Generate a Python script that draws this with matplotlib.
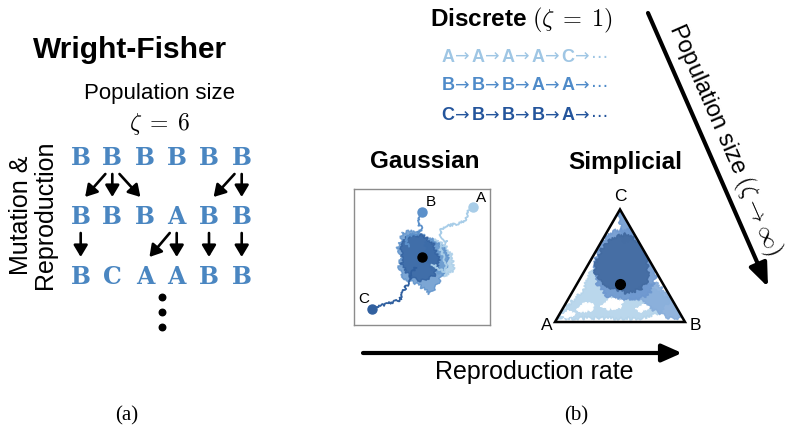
import matplotlib.pyplot as plt
import numpy as np

plt.rcParams['mathtext.fontset'] = 'cm'
SANS = ['Liberation Sans', 'DejaVu Sans']

# ---- (a) Wright-Fisher generations ----
wf_rows = ['BBBBBB', 'BBBABB', 'BCAABB']
wf_col_x = [80.7, 112.3, 145.0, 176.7, 209.0, 241.7]
wf_row_y = [158, 217, 277]
# (parent column, child column) for each generation step
wf_links = [[(1, 0), (1, 1), (1, 2), (5, 4), (5, 5)],
            [(0, 0), (3, 2), (3, 3), (4, 4), (5, 5)]]
wf_color = '#4a86c1'

# ---- (b) discrete chains ----
seq_states = [['A', 'A', 'A', 'A', 'C'],
              ['B', 'B', 'B', 'A', 'A'],
              ['C', 'B', 'B', 'B', 'A']]
seq_colors = ['#9fc6e4', '#4f8bc9', '#24559c']
seq_y = [57, 86, 116]

walk_colors = {'A': '#a8cde8', 'B': '#5b90ca', 'C': '#31609f'}

# Gaussian walks (box coords, centre = stationary point)
gauss_tail = {
    'A': ([0.755, 0.68, 0.657, 0.559, 0.412, 0.314, 0.265, 0.289, 0.363, 0.265, 0.314, 0.363, 0.314, 0.15],
          [0.74, 0.667, 0.569, 0.495, 0.47, 0.446, 0.373, 0.275, 0.225, 0.127, 0.005, -0.118, -0.216, -0.1]),
    'B': ([-0.005, -0.03, -0.054, -0.005, -0.054, -0.127, -0.2, -0.25, -0.2],
          [0.667, 0.593, 0.495, 0.422, 0.348, 0.324, 0.324, 0.25, 0.15]),
    'C': ([-0.74, -0.618, -0.52, -0.42, -0.32, -0.30, -0.25, -0.20, -0.18, -0.15, -0.1],
          [-0.765, -0.706, -0.696, -0.657, -0.632, -0.559, -0.461, -0.387, -0.314, -0.24, -0.15]),
}
gauss_cloud = {
    'A': ([0.05, 0.22, 0.36, 0.46, 0.46, 0.32, 0.15, 0.05],
          [0.22, 0.25, 0.14, 0.0, -0.2, -0.28, -0.18, 0.0]),
    'B': ([-0.3, -0.1, 0.05, 0.2, 0.3, 0.38, 0.36, 0.28, 0.2, 0.12, 0.0, -0.12, -0.28, -0.34, -0.3, -0.36, -0.3],
          [0.36, 0.38, 0.3, 0.24, 0.15, 0.02, -0.15, -0.3, -0.45, -0.55, -0.45, -0.38, -0.3, -0.15, 0.0, 0.15, 0.26]),
    'C': ([-0.25, 0.02, 0.18, 0.25, 0.18, 0.0, -0.18, -0.3, -0.3],
          [0.3, 0.32, 0.18, -0.05, -0.28, -0.35, -0.3, -0.12, 0.12]),
}
gauss_label_pos = {'A': (0.87, 0.87), 'B': (0.13, 0.81), 'C': (-0.85, -0.62)}

# Simplicial walks (triangle plane coords, A=(0,0), B=(1,0), C=(0.5,0.866))
simplex_cloud = {
    'light': ([0.013, 0.115, 0.218, 0.269, 0.359, 0.397, 0.436, 0.397, 0.474, 0.654, 0.782, 0.885, 0.808, 0.654],
              [0.028, 0.144, 0.246, 0.374, 0.503, 0.631, 0.579, 0.4, 0.246, 0.272, 0.246, 0.169, 0.067, 0.028]),
    'right': ([0.654, 0.782, 0.859, 0.962, 1.013, 0.885, 0.756, 0.654, 0.577],
              [0.272, 0.297, 0.221, 0.118, 0.028, 0.028, 0.092, 0.169, 0.195]),
    'apex': ([0.5, 0.556, 0.59, 0.603, 0.526, 0.513, 0.487],
             [0.862, 0.798, 0.695, 0.631, 0.605, 0.708, 0.81]),
    'middle': ([0.36, 0.45, 0.6, 0.72, 0.78, 0.72, 0.55, 0.4, 0.32, 0.3],
               [0.62, 0.7, 0.72, 0.55, 0.35, 0.2, 0.17, 0.2, 0.3, 0.45]),
    'dark': ([0.38, 0.48, 0.56, 0.66, 0.71, 0.72, 0.66, 0.56, 0.46, 0.36, 0.3, 0.33],
             [0.6, 0.66, 0.68, 0.6, 0.48, 0.33, 0.25, 0.22, 0.25, 0.3, 0.4, 0.5]),
}
simplex_fill = {'light': '#b3d3ea', 'right': '#86acda', 'apex': '#6f9ad0',
                'middle': '#6d97cf', 'dark': '#41699f'}
simplex_holes = [([0.17, 0.22, 0.3, 0.28, 0.2], [0.1, 0.15, 0.13, 0.09, 0.08]),
                 ([0.35, 0.42, 0.52, 0.5, 0.4], [0.12, 0.18, 0.16, 0.11, 0.1]),
                 ([0.05, 0.1, 0.15, 0.1], [0.05, 0.09, 0.06, 0.035]),
                 ([0.62, 0.68, 0.72, 0.66], [0.1, 0.14, 0.11, 0.08])]

fig = plt.figure(figsize=(7.9, 4.29), dpi=100)
ax = fig.add_axes([0, 0, 1, 1])
ax.set_xlim(0, 790)
ax.set_ylim(429, 0)
ax.axis('off')

# ---------- panel (a) ----------
ax.text(130, 50, 'Wright-Fisher', family=SANS, weight='bold', fontsize=21.5, ha='center', va='center')
ax.text(160, 93, 'Population size', family=SANS, fontsize=16, ha='center', va='center')
ax.text(160, 124, r'$\zeta \;=\; 6$', fontsize=17, ha='center', va='center')
ax.text(33, 215, 'Mutation &\nReproduction', family=SANS, fontsize=18, rotation=90,
        ha='center', va='center', multialignment='center', linespacing=1.0)

for row, y in zip(wf_rows, wf_row_y):
    for ch, x in zip(row, wf_col_x):
        ax.text(x, y, ch, family='DejaVu Serif', weight='bold', fontsize=17,
                color=wf_color, ha='center', va='center')

for step, links in enumerate(wf_links):
    y0 = wf_row_y[step] + 16
    y1 = wf_row_y[step + 1] - 20
    for p, c in links:
        xp, xc = wf_col_x[p], wf_col_x[c]
        ax.annotate('', xy=(xp + (xc - xp) * 0.86, y1), xytext=(xp + (xc - xp) * 0.22, y0),
                    arrowprops=dict(arrowstyle='-|>,head_length=0.5,head_width=0.3', lw=1.9,
                                    color='black', mutation_scale=14, shrinkA=0, shrinkB=0))

ax.scatter([162, 162, 162], [297, 312, 327], s=22, color='black')
ax.text(127, 416, '(a)', family=['Liberation Serif', 'DejaVu Serif'], fontsize=15, ha='center', va='center')

# ---------- panel (b) ----------
ax.text(522, 20, r'Discrete $(\zeta \;=\; 1)$', family=SANS, weight='bold', fontsize=17.5,
        ha='center', va='center')
for states, col, y in zip(seq_states, seq_colors, seq_y):
    for i, st in enumerate(states):
        ax.text(448 + 30 * i, y, st, family=SANS, weight='bold', fontsize=13,
                color=col, ha='center', va='center')
        ax.text(462 + 30 * i, y, '→', family='DejaVu Sans', fontsize=12.5,
                color=col, ha='center', va='center')
    ax.text(600, y, '⋯', family='DejaVu Sans', fontsize=12.5, color=col, ha='center', va='center')

ax.text(425, 162, 'Gaussian', family=SANS, weight='bold', fontsize=17.5, ha='center', va='center')
ax.text(625, 162, 'Simplicial', family=SANS, weight='bold', fontsize=17.5, ha='center', va='center')

# population size arrow (diagonal)
ax.annotate('', xy=(768, 287), xytext=(648, 13),
            arrowprops=dict(arrowstyle='-|>,head_length=0.5,head_width=0.2', lw=3,
                            color='black', mutation_scale=28, shrinkA=0, shrinkB=0))
ang = -np.degrees(np.arctan2(274, 120))
ax.text(725, 140, r'Population size $(\zeta \rightarrow \infty)$', family=SANS, fontsize=17,
        rotation=ang, rotation_mode='anchor', ha='center', va='center')

# reproduction rate arrow
ax.annotate('', xy=(682, 353), xytext=(363, 353),
            arrowprops=dict(arrowstyle='-|>,head_length=0.45,head_width=0.2', lw=3,
                            color='black', mutation_scale=27, shrinkA=0, shrinkB=0))
ax.text(534, 372, 'Reproduction rate', family=SANS, fontsize=18, ha='center', va='center')
ax.text(576, 416, '(b)', family=['Liberation Serif', 'DejaVu Serif'], fontsize=15, ha='center', va='center')

# Gaussian box
gx = fig.add_axes([354 / 790, (429 - 325) / 429, 136 / 790, 136 / 429])
gx.set_xlim(-1, 1)
gx.set_ylim(-1, 1)
gx.set_xticks([])
gx.set_yticks([])
for s in gx.spines.values():
    s.set_edgecolor('#8c8c8c')
    s.set_linewidth(1.0)

for k in ['A', 'B', 'C']:
    cx, cy = gauss_cloud[k]
    poly = gx.fill(cx, cy, color=walk_colors[k], alpha=0.8, lw=1.0, ec=walk_colors[k])[0]
    poly.set_sketch_params(1.6, 4, 10)
for k in ['A', 'B', 'C']:
    tx, ty = gauss_tail[k]
    ln, = gx.plot(tx, ty, color=walk_colors[k], lw=1.3)
    ln.set_sketch_params(1.3, 3, 8)
    gx.plot(tx[0], ty[0], 'o', ms=6.5, color=walk_colors[k])
    lx, ly = gauss_label_pos[k]
    gx.text(lx, ly, k, family=SANS, fontsize=11, ha='center', va='center')
gx.plot(0, 0, 'o', ms=6.5, color='black')

# Simplicial triangle
sx = fig.add_axes([555 / 790, (429 - 322) / 429, 130 / 790, 113 / 429])
sx.set_xlim(0, 1)
sx.set_ylim(0, 113 / 130)
sx.axis('off')
corners = [(0, 0), (1, 0), (0.5, np.sqrt(3) / 2)]
clip = plt.Polygon(corners, closed=True, transform=sx.transData)
for k in ['light', 'right', 'apex', 'middle', 'dark']:
    cx, cy = simplex_cloud[k]
    poly = sx.fill(cx, cy, color=simplex_fill[k], alpha=0.9, lw=1.0, ec=simplex_fill[k])[0]
    poly.set_sketch_params(1.6, 4, 10)
    poly.set_clip_path(clip)
for hx, hy in simplex_holes:
    hole = sx.fill(hx, hy, color='white', lw=0.8, ec='white')[0]
    hole.set_sketch_params(1.2, 3, 8)
sx.add_patch(plt.Polygon(corners, closed=True, fill=False, ec='black', lw=1.8, zorder=5, clip_on=False))
sx.plot(0.5, np.sqrt(3) / 6, 'o', ms=7, color='black', zorder=6)
for lab, (lx, ly) in zip(['A', 'B', 'C'], [(-0.06, -0.03), (1.08, -0.03), (0.5, 0.966)]):
    sx.text(lx, ly, lab, family=SANS, fontsize=12.5, ha='center', va='center', clip_on=False)

fig.savefig('out.png', dpi=100)
